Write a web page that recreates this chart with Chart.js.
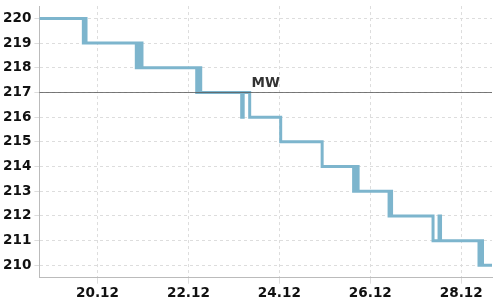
<!DOCTYPE html>
<html>
<head>
<meta charset="utf-8">
<script src="https://cdn.jsdelivr.net/npm/chart.js@4"></script>
<style>
  html, body { margin: 0; padding: 0; background: #fff; }
  #wrap { width: 500px; height: 300px; }
</style>
</head>
<body>
<div id="wrap"><canvas id="chart"></canvas></div>
<script>
// zeit in tagen (dezember), wert ab diesem zeitpunkt
const zeit = [18.721, 19.688, 19.716, 19.747, 20.853, 20.886, 20.919, 20.952, 20.978,
  22.182, 22.226, 22.270, 23.171, 23.204, 23.347, 24.029, 24.941,
  25.633, 25.677, 25.732, 26.413, 26.446, 26.468, 27.380, 27.512, 27.545,
  28.391, 28.424, 28.468, 28.677];
const werte = [220, 219, 220, 219, 218, 219, 218, 219, 218,
  217, 218, 217, 216, 217, 216, 215, 214,
  213, 214, 213, 212, 213, 212, 211, 212, 211,
  210, 211, 210, 210];
const xTicks = [20, 22, 24, 26, 28];
const yTicks = [210, 211, 212, 213, 214, 215, 216, 217, 218, 219, 220];
const mittelwert = 217;
const mwLabel = 'MW';

const tickFont = { family: 'DejaVu Sans', size: 13.6, weight: 'bold', lineHeight: 1.2 };

// horizontale linie für den mittelwert
const mwLinie = {
  id: 'mwLinie',
  afterDatasetsDraw(chart) {
    const { ctx, chartArea, scales } = chart;
    const y = Math.round(scales.y.getPixelForValue(mittelwert)) + 0.5;
    ctx.save();
    ctx.strokeStyle = 'rgba(90,90,90,0.8)';
    ctx.lineWidth = 1;
    ctx.beginPath();
    ctx.moveTo(chartArea.left, y);
    ctx.lineTo(chartArea.right, y);
    ctx.stroke();
    ctx.fillStyle = '#333';
    ctx.font = 'bold 13.5px "DejaVu Sans"';
    ctx.textAlign = 'center';
    ctx.textBaseline = 'bottom';
    ctx.fillText(mwLabel, (chartArea.left + chartArea.right) / 2, y - 2);
    ctx.restore();
  }
};

new Chart(document.getElementById('chart'), {
  type: 'line',
  data: {
    datasets: [{
      data: zeit.map((t, i) => ({ x: t, y: werte[i] })),
      stepped: true,
      borderColor: 'rgb(125,181,205)',
      borderWidth: 3,
      pointRadius: 0,
      fill: false
    }]
  },
  options: {
    responsive: true,
    maintainAspectRatio: false,
    animation: false,
    layout: { padding: { left: 0, right: 8, top: 0, bottom: -4 } },
    plugins: {
      legend: { display: false },
      tooltip: { enabled: false }
    },
    scales: {
      x: {
        type: 'linear',
        min: Math.min(...zeit),
        max: Math.max(...zeit),
        afterBuildTicks: s => { s.ticks = xTicks.map(v => ({ value: v })); },
        ticks: {
          font: tickFont,
          color: '#111',
          padding: 2,
          maxRotation: 0,
          callback: v => v + '.12'
        },
        grid: { color: '#ddd', tickLength: 6 },
        border: { color: '#bbb', dash: [3, 3] }
      },
      y: {
        min: 209.5,
        max: 220.5,
        afterBuildTicks: s => { s.ticks = yTicks.map(v => ({ value: v })); },
        ticks: { font: { ...tickFont, lineHeight: 0.45 }, color: '#111', padding: 3 },
        grid: { color: '#ddd', tickLength: 5 },
        border: { color: '#bbb', dash: [3, 3] }
      }
    }
  },
  plugins: [mwLinie]
});
</script>
</body>
</html>
